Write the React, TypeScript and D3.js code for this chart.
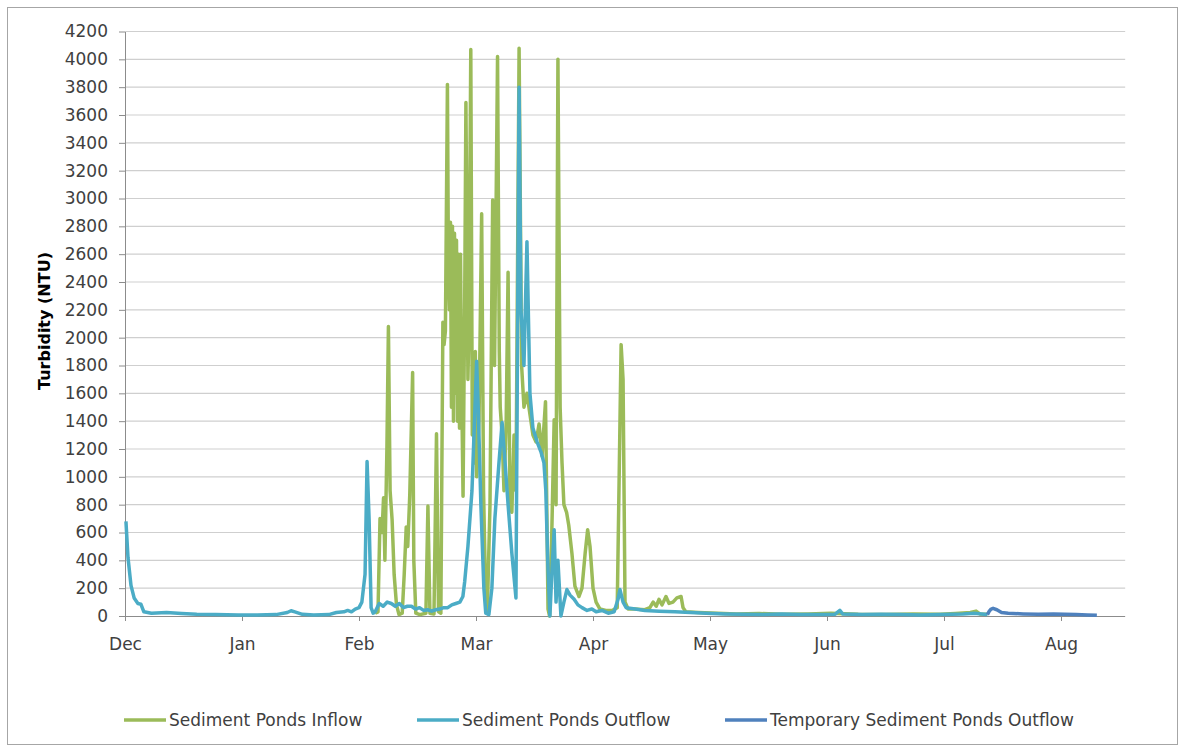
import React, { useEffect, useRef } from "react";
import * as d3 from "d3";

// month tick positions on the date axis (first day of each month)
const monthStarts = [
  "2011-12-01", "2012-01-01", "2012-02-01", "2012-03-01", "2012-04-01",
  "2012-05-01", "2012-06-01", "2012-07-01", "2012-08-01", "2012-09-01",
];
const axisEnd = "2012-08-18";
const yTicks = [0, 200, 400, 600, 800, 1000, 1200, 1400, 1600, 1800, 2000, 2200, 2400, 2600, 2800, 3000, 3200, 3400, 3600, 3800, 4000, 4200];

const seriesNames = ["Sediment Ponds Inflow", "Sediment Ponds Outflow", "Temporary Sediment Ponds Outflow"];
const seriesColors = ["#9BBB59", "#4BACC6", "#4F81BD"];

// [time, NTU]
const inflow: [string, number][] = [
  ["2012-02-05 00", 20], ["2012-02-05 17", 30], ["2012-02-06 05", 700], ["2012-02-06 17", 600],
  ["2012-02-07 02", 850], ["2012-02-07 10", 400], ["2012-02-07 22", 1200], ["2012-02-08 07", 2080],
  ["2012-02-08 17", 900], ["2012-02-09 05", 690], ["2012-02-09 17", 300], ["2012-02-10 07", 80],
  ["2012-02-10 22", 10], ["2012-02-11 17", 20], ["2012-02-12 05", 300], ["2012-02-12 17", 640],
  ["2012-02-13 02", 500], ["2012-02-13 14", 870], ["2012-02-14 07", 1750], ["2012-02-14 14", 400],
  ["2012-02-15 02", 20], ["2012-02-16 02", 10], ["2012-02-17 14", 20], ["2012-02-18 02", 790],
  ["2012-02-18 14", 20], ["2012-02-19 14", 15], ["2012-02-20 05", 1310], ["2012-02-20 17", 30],
  ["2012-02-21 07", 20], ["2012-02-21 19", 2110], ["2012-02-22 02", 1950], ["2012-02-22 10", 2050],
  ["2012-02-22 22", 3820], ["2012-02-23 04", 2500], ["2012-02-23 10", 2200], ["2012-02-23 16", 2830],
  ["2012-02-23 22", 1500], ["2012-02-24 04", 2800], ["2012-02-24 10", 1400], ["2012-02-24 16", 2750],
  ["2012-02-24 22", 1600], ["2012-02-25 04", 2700], ["2012-02-25 10", 1400], ["2012-02-25 16", 2600],
  ["2012-02-25 22", 1350], ["2012-02-26 04", 2600], ["2012-02-26 10", 1700], ["2012-02-26 19", 860],
  ["2012-02-27 05", 2300], ["2012-02-27 12", 3690], ["2012-02-28 00", 1700], ["2012-02-28 06", 2100],
  ["2012-02-28 17", 4070], ["2012-02-29 02", 1300], ["2012-02-29 08", 1800], ["2012-02-29 14", 1100],
  ["2012-02-29 20", 1900], ["2012-03-01 04", 1000], ["2012-03-01 19", 1400], ["2012-03-02 12", 2890],
  ["2012-03-03 00", 900], ["2012-03-03 12", 215], ["2012-03-04 00", 30], ["2012-03-04 17", 800],
  ["2012-03-05 10", 2990], ["2012-03-05 22", 1800], ["2012-03-06 17", 4020], ["2012-03-07 04", 1900],
  ["2012-03-07 10", 1500], ["2012-03-07 22", 1300], ["2012-03-08 10", 900], ["2012-03-09 00", 1400],
  ["2012-03-09 12", 2470], ["2012-03-10 00", 800], ["2012-03-10 12", 745], ["2012-03-11 02", 1300],
  ["2012-03-11 14", 900], ["2012-03-12 10", 4080], ["2012-03-13 02", 1800], ["2012-03-13 17", 1500],
  ["2012-03-14 12", 1600], ["2012-03-15 07", 1450], ["2012-03-16 02", 1300], ["2012-03-16 22", 1250],
  ["2012-03-17 17", 1380], ["2012-03-18 12", 1150], ["2012-03-19 10", 1540], ["2012-03-20 02", 50],
  ["2012-03-20 12", 0], ["2012-03-21 02", 600], ["2012-03-21 17", 1410], ["2012-03-22 05", 800],
  ["2012-03-22 17", 4000], ["2012-03-23 07", 1500], ["2012-03-23 19", 1100], ["2012-03-24 07", 800],
  ["2012-03-25 00", 745], ["2012-03-25 14", 650], ["2012-03-26 10", 450], ["2012-03-27 05", 215],
  ["2012-03-28 07", 140], ["2012-03-29 02", 200], ["2012-03-29 22", 450], ["2012-03-30 14", 620],
  ["2012-03-31 05", 500], ["2012-04-01 00", 200], ["2012-04-01 19", 100], ["2012-04-02 19", 50],
  ["2012-04-04 07", 40], ["2012-04-05 22", 40], ["2012-04-07 05", 60], ["2012-04-07 17", 1000],
  ["2012-04-08 05", 1950], ["2012-04-08 17", 1700], ["2012-04-09 05", 100], ["2012-04-10 00", 50],
  ["2012-04-11 19", 50], ["2012-04-14 07", 45], ["2012-04-15 14", 60], ["2012-04-16 10", 100],
  ["2012-04-17 05", 70], ["2012-04-17 22", 120], ["2012-04-18 17", 80], ["2012-04-19 17", 140],
  ["2012-04-20 12", 90], ["2012-04-21 12", 100], ["2012-04-22 12", 130], ["2012-04-23 14", 140],
  ["2012-04-24 02", 60], ["2012-04-24 19", 30], ["2012-04-28 00", 25], ["2012-05-03 00", 20],
  ["2012-05-08 00", 15], ["2012-05-14 00", 18], ["2012-05-20 00", 12], ["2012-05-27 00", 15],
  ["2012-06-02 00", 20], ["2012-06-09 00", 12], ["2012-06-16 00", 10], ["2012-06-23 00", 15],
  ["2012-06-30 00", 12], ["2012-07-04 00", 18], ["2012-07-08 00", 25], ["2012-07-09 12", 35],
  ["2012-07-10 12", 15], ["2012-07-12 12", 12],
];

const outflow: [string, number][] = [
  ["2011-12-01 06", 680], ["2011-12-01 19", 420], ["2011-12-02 14", 220], ["2011-12-03 10", 130],
  ["2011-12-04 10", 90], ["2011-12-05 05", 85], ["2011-12-06 00", 30], ["2011-12-08 00", 20],
  ["2011-12-12 00", 25], ["2011-12-16 00", 18], ["2011-12-20 00", 12], ["2011-12-25 00", 10],
  ["2011-12-31 00", 8], ["2012-01-05 00", 8], ["2012-01-10 00", 10], ["2012-01-13 00", 25],
  ["2012-01-14 00", 38], ["2012-01-15 00", 30], ["2012-01-17 00", 12], ["2012-01-20 00", 8],
  ["2012-01-24 00", 10], ["2012-01-26 00", 25], ["2012-01-28 00", 30], ["2012-01-29 00", 40],
  ["2012-01-30 00", 30], ["2012-01-31 00", 50], ["2012-02-01 00", 60], ["2012-02-01 17", 100],
  ["2012-02-02 12", 300], ["2012-02-03 00", 1110], ["2012-02-03 12", 700], ["2012-02-04 00", 60],
  ["2012-02-04 12", 20], ["2012-02-05 00", 30], ["2012-02-06 00", 90], ["2012-02-07 00", 70],
  ["2012-02-08 00", 100], ["2012-02-09 00", 90], ["2012-02-10 00", 70], ["2012-02-11 00", 90],
  ["2012-02-12 00", 60], ["2012-02-13 00", 70], ["2012-02-14 00", 70], ["2012-02-15 00", 50],
  ["2012-02-16 00", 60], ["2012-02-17 00", 40], ["2012-02-18 00", 45], ["2012-02-19 00", 35],
  ["2012-02-20 00", 45], ["2012-02-21 00", 50], ["2012-02-22 00", 60], ["2012-02-23 00", 60],
  ["2012-02-24 00", 80], ["2012-02-25 00", 90], ["2012-02-26 00", 100], ["2012-02-26 18", 140],
  ["2012-02-27 05", 250], ["2012-02-28 00", 500], ["2012-02-29 00", 900], ["2012-02-29 12", 1300],
  ["2012-03-01 04", 1830], ["2012-03-01 14", 1500], ["2012-03-02 07", 800], ["2012-03-03 02", 200],
  ["2012-03-03 14", 20], ["2012-03-04 10", 10], ["2012-03-05 05", 200], ["2012-03-06 00", 700],
  ["2012-03-07 02", 1100], ["2012-03-07 22", 1390], ["2012-03-08 17", 1100], ["2012-03-09 12", 800],
  ["2012-03-10 12", 450], ["2012-03-11 14", 130], ["2012-03-12 10", 3800], ["2012-03-12 22", 2200],
  ["2012-03-13 17", 1800], ["2012-03-14 12", 2690], ["2012-03-15 07", 1600], ["2012-03-16 02", 1350],
  ["2012-03-17 05", 1250], ["2012-03-18 05", 1180], ["2012-03-19 00", 1100], ["2012-03-19 12", 900],
  ["2012-03-20 00", 400], ["2012-03-20 14", 0], ["2012-03-21 02", 300], ["2012-03-21 17", 620],
  ["2012-03-22 05", 100], ["2012-03-22 17", 400], ["2012-03-23 12", 0], ["2012-03-24 07", 100],
  ["2012-03-25 02", 190], ["2012-03-25 22", 150], ["2012-03-27 00", 120], ["2012-03-28 00", 80],
  ["2012-03-29 02", 60], ["2012-03-30 10", 40], ["2012-03-31 17", 50], ["2012-04-01 19", 30],
  ["2012-04-03 07", 40], ["2012-04-04 22", 20], ["2012-04-06 10", 30], ["2012-04-07 10", 120],
  ["2012-04-07 22", 190], ["2012-04-08 17", 100], ["2012-04-09 12", 60], ["2012-04-11 19", 50],
  ["2012-04-14 07", 40], ["2012-04-18 00", 35], ["2012-04-22 00", 30], ["2012-04-26 00", 25],
  ["2012-04-30 00", 20], ["2012-05-05 00", 15], ["2012-05-10 00", 12], ["2012-05-15 00", 10],
  ["2012-05-20 00", 15], ["2012-05-25 00", 10], ["2012-05-31 00", 10], ["2012-06-03 00", 12],
  ["2012-06-04 07", 40], ["2012-06-05 00", 15], ["2012-06-10 00", 10], ["2012-06-15 00", 12],
  ["2012-06-20 00", 10], ["2012-06-25 00", 8], ["2012-06-30 00", 10], ["2012-07-03 00", 12],
  ["2012-07-06 00", 15], ["2012-07-09 00", 20], ["2012-07-11 00", 15], ["2012-07-12 12", 10],
];

const tempOutflow: [string, number][] = [
  ["2012-07-12 12", 10], ["2012-07-13 00", 35], ["2012-07-13 12", 50], ["2012-07-14 00", 55],
  ["2012-07-15 00", 45], ["2012-07-16 06", 25], ["2012-07-18 00", 20], ["2012-07-22 00", 15],
  ["2012-07-26 00", 12], ["2012-07-30 00", 15], ["2012-08-02 00", 12], ["2012-08-05 00", 10],
  ["2012-08-08 00", 8], ["2012-08-10 12", 5],
];

const width = 1185;
const height = 751;
const font = "'DejaVu Sans', sans-serif";

function drawChart(svgEl: SVGSVGElement) {
  const svg = d3.select(svgEl);
  svg.selectAll("*").remove();

  const parseDay = d3.timeParse("%Y-%m-%d");
  const parseT = d3.timeParse("%Y-%m-%d %H");

  // chart frame
  svg.append("rect")
    .attr("x", 7.5).attr("y", 7.5)
    .attr("width", 1170).attr("height", 737)
    .attr("fill", "#fff")
    .attr("stroke", "#a6a6a6");

  const left = 125;
  const monthW = 117;
  const months = monthStarts.map((d) => parseDay(d) as Date);

  // each month gets the same width, as on the original axis
  const x = d3.scaleTime()
    .domain(months)
    .range(months.map((_, i) => left + i * monthW));
  const y = d3.scaleLinear().domain([0, 4200]).range([616, 31.5]);

  const xEnd = x(parseDay(axisEnd) as Date);

  // horizontal gridlines
  svg.append("g")
    .selectAll("line")
    .data(yTicks.slice(1))
    .enter()
    .append("line")
    .attr("x1", left).attr("x2", xEnd)
    .attr("y1", (d) => y(d)).attr("y2", (d) => y(d))
    .attr("stroke", "#cfcfcf")
    .attr("stroke-width", 1.2);

  // y axis
  const yAxis = svg.append("g")
    .attr("transform", `translate(${left},0)`)
    .call(
      d3.axisLeft(y)
        .tickValues(yTicks)
        .tickFormat(d3.format("d"))
        .tickSize(6)
        .tickSizeOuter(0)
        .tickPadding(11)
    );
  yAxis.select(".domain").attr("stroke", "#8c8c8c");
  yAxis.selectAll(".tick line").attr("stroke", "#8c8c8c");
  yAxis.selectAll(".tick text")
    .attr("font-family", font).attr("font-size", 17).attr("fill", "#404040");

  // x axis
  const xAxis = svg.append("g")
    .attr("transform", `translate(0,${y(0)})`)
    .call(
      d3.axisBottom(x)
        .tickValues(months.slice(0, 9))
        .tickFormat((d) => d3.timeFormat("%b")(d as Date))
        .tickSize(5)
        .tickSizeOuter(0)
        .tickPadding(17)
    );
  xAxis.select(".domain").attr("d", `M${left},0.5H${xEnd}`).attr("stroke", "#8c8c8c");
  xAxis.selectAll(".tick line").attr("stroke", "#8c8c8c");
  xAxis.selectAll(".tick text")
    .attr("font-family", font).attr("font-size", 17).attr("fill", "#404040");

  // series
  const line = d3.line<[string, number]>()
    .x((d) => x(parseT(d[0]) as Date))
    .y((d) => y(d[1]));

  [inflow, outflow, tempOutflow].forEach((data, i) => {
    svg.append("path")
      .datum(data)
      .attr("fill", "none")
      .attr("stroke", seriesColors[i])
      .attr("stroke-width", 3.5)
      .attr("stroke-linejoin", "round")
      .attr("d", line);
  });

  // y title
  svg.append("text")
    .attr("transform", "translate(45,321) rotate(-90)")
    .attr("text-anchor", "middle")
    .attr("dominant-baseline", "middle")
    .attr("font-family", font)
    .attr("font-weight", "bold")
    .attr("font-size", 16)
    .attr("fill", "#000")
    .text("Turbidity (NTU)");

  // legend
  const legendX = [124, 417, 725];
  const legend = svg.append("g");
  seriesNames.forEach((name, i) => {
    legend.append("line")
      .attr("x1", legendX[i]).attr("x2", legendX[i] + 42)
      .attr("y1", 720).attr("y2", 720)
      .attr("stroke", seriesColors[i])
      .attr("stroke-width", 3.5);
    legend.append("text")
      .attr("x", legendX[i] + 45)
      .attr("y", 726)
      .attr("font-family", font)
      .attr("font-size", 17)
      .attr("fill", "#404040")
      .text(name);
  });
}

export default function App() {
  const svgRef = useRef<SVGSVGElement>(null);

  useEffect(() => {
    if (svgRef.current) drawChart(svgRef.current);
  }, []);

  return (
    <svg
      ref={svgRef}
      width={width}
      height={height}
      style={{ position: "absolute", left: 0, top: 0, background: "#fff" }}
    />
  );
}
